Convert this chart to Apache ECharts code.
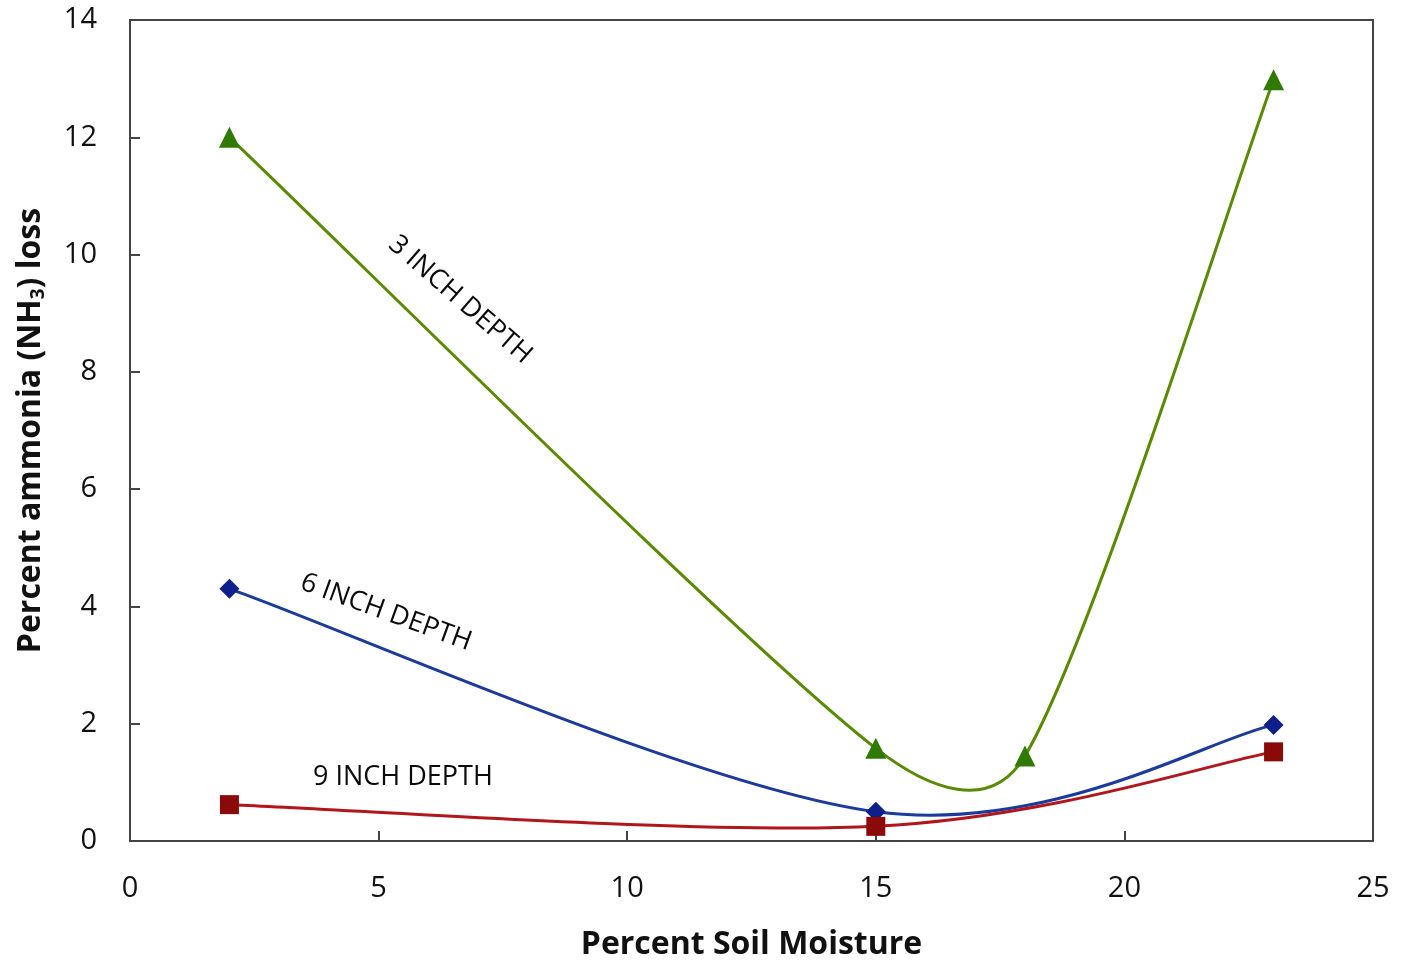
<!DOCTYPE html>
<html>
<head>
<meta charset="utf-8">
<script src="https://cdn.jsdelivr.net/npm/echarts@6/dist/echarts.min.js"></script>
<style>
html,body{margin:0;padding:0;background:#fff;}
#chart{width:1404px;height:961px;}
</style>
</head>
<body>
<div id="chart"></div>
<script>
// Data
const moisture3 = [2, 15, 18, 23];
const loss3 = [12.0, 1.58, 1.45, 12.98];
const moisture6 = [2, 15, 23];
const loss6 = [4.3, 0.5, 1.98];
const moisture9 = [2, 15, 23];
const loss9 = [0.62, 0.25, 1.52];
const seriesNames = ['3 INCH DEPTH', '6 INCH DEPTH', '9 INCH DEPTH'];
const xTickValues = [0, 5, 10, 15, 20, 25];
const yTickValues = [0, 2, 4, 6, 8, 10, 12, 14];
const xTitle = 'Percent Soil Moisture';

const zip = (xs, ys) => xs.map((x, i) => [x, ys[i]]);
const FONT = '"Open Sans", Lato, sans-serif';

// Excel-style smoothed segment (Bezier, tension 1/6, control arm limited relative to the segment)
function smoothSegment(color) {
  return function (params, api) {
    const i = params.dataIndexInside;
    const n = params.dataInsideLength;
    if (i >= n - 1) return null;
    const pt = k => api.coord([api.value(0, k), api.value(1, k)]);
    const p1 = pt(i), p2 = pt(i + 1);
    const p0 = i > 0 ? pt(i - 1) : p1;
    const p3 = i + 2 < n ? pt(i + 2) : p2;
    const d = (a, b) => Math.hypot(b[0] - a[0], b[1] - a[1]);
    const d12 = d(p1, p2), d02 = d(p0, p2), d13 = d(p1, p3);
    const lim = d12 * 0.45;
    let f1 = 1 / 6, f2 = 1 / 6;
    if (d02 * f1 > lim) f1 = lim / d02;
    if (d13 * f2 > lim) f2 = lim / d13;
    return {
      type: 'bezierCurve',
      shape: {
        x1: p1[0], y1: p1[1], x2: p2[0], y2: p2[1],
        cpx1: p1[0] + (p2[0] - p0[0]) * f1, cpy1: p1[1] + (p2[1] - p0[1]) * f1,
        cpx2: p2[0] - (p3[0] - p1[0]) * f2, cpy2: p2[1] - (p3[1] - p1[1]) * f2
      },
      style: { stroke: color, lineWidth: 3, fill: null }
    };
  };
}

const chart = echarts.init(document.getElementById('chart'));
const axisCommon = {
  axisLine: { show: true, lineStyle: { color: '#444', width: 2 } },
  axisTick: { show: true, inside: true, length: 10, lineStyle: { color: '#444', width: 2 } },
  splitLine: { show: false },
  axisLabel: { color: '#111', fontSize: 29, fontFamily: FONT, margin: 33 },
  nameTextStyle: { color: '#111', fontSize: 32, fontWeight: 'bold', fontFamily: FONT }
};
const lineColors = ['#5a8a00', '#1c3a9c', '#b0161c'];
const markerColors = ['#2f7a05', '#0c1f8a', '#8a0a0a'];
const symbols = ['triangle', 'diamond', 'rect'];
const symbolSizes = [21, 20, 19];
const datasets = [zip(moisture3, loss3), zip(moisture6, loss6), zip(moisture9, loss9)];

const series = [];
datasets.forEach((data, k) => {
  series.push({
    name: seriesNames[k], type: 'custom', data: data,
    encode: { x: 0, y: 1 }, renderItem: smoothSegment(lineColors[k]), z: 2 + k, silent: true
  });
});
datasets.forEach((data, k) => {
  series.push({
    name: seriesNames[k], type: 'scatter', data: data,
    symbol: symbols[k], symbolSize: symbolSizes[k],
    itemStyle: { color: markerColors[k], opacity: 1 }, z: 6 + k
  });
});

chart.setOption({
  animation: false,
  backgroundColor: '#fff',
  grid: { left: 130, right: 31, top: 20, bottom: 120, show: true, borderColor: '#444', borderWidth: 2,
          containLabel: false, outerBoundsMode: 'none' },
  xAxis: Object.assign({}, axisCommon, {
    type: 'value', min: xTickValues[0], max: xTickValues[xTickValues.length - 1], interval: 5,
    name: xTitle, nameLocation: 'middle', nameGap: 88
  }),
  yAxis: Object.assign({}, axisCommon, {
    type: 'value', min: yTickValues[0], max: yTickValues[yTickValues.length - 1], interval: 2,
    name: '{t|Percent ammonia (NH}{s|3}{t|) loss}', nameLocation: 'middle', nameGap: 82,
    nameTextStyle: {
      color: '#111', fontSize: 32, fontWeight: 'bold', fontFamily: FONT,
      rich: {
        t: { fontSize: 32, fontWeight: 'bold', fontFamily: FONT, color: '#111' },
        s: { fontSize: 19, fontWeight: 'bold', fontFamily: FONT, color: '#111', padding: [15, 0, 0, 0] }
      }
    }
  }),
  series: series
});

// Annotations placed in data coordinates
const labelSpots = [
  { text: seriesNames[0], at: [6.64, 9.23], rot: -41 },
  { text: seriesNames[1], at: [5.15, 3.9], rot: -20 },
  { text: seriesNames[2], at: [5.49, 1.09], rot: 0 }
];
chart.setOption({
  graphic: labelSpots.map(s => {
    const p = chart.convertToPixel({ gridIndex: 0 }, s.at);
    return {
      type: 'text', x: p[0], y: p[1], rotation: s.rot * Math.PI / 180,
      style: { text: s.text, fill: '#0a0a0a', font: '27px ' + FONT, align: 'center', verticalAlign: 'middle' }
    };
  })
});
</script>
</body>
</html>
